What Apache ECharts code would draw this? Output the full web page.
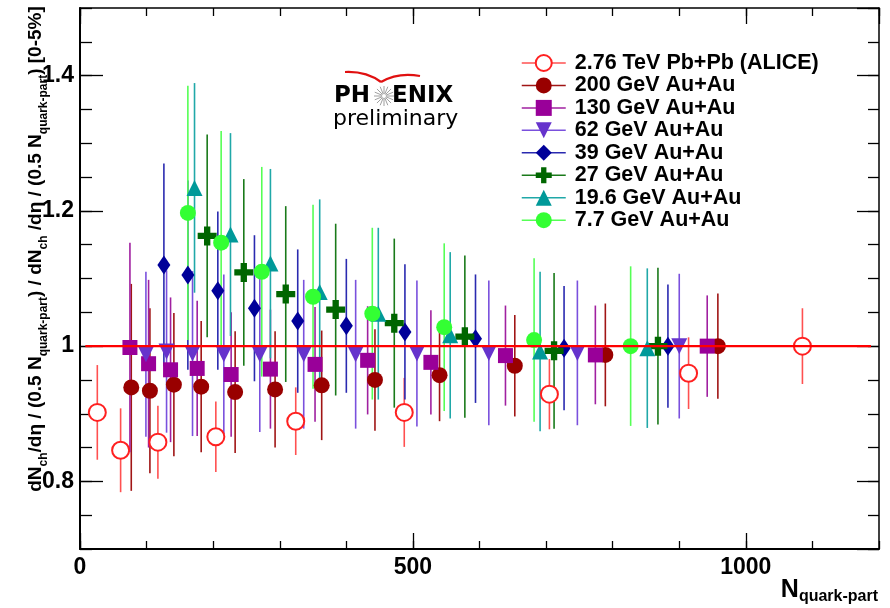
<!DOCTYPE html>
<html>
<head>
<meta charset="utf-8">
<script src="https://cdn.jsdelivr.net/npm/echarts@6/dist/echarts.min.js"></script>
<style>
  html, body { margin: 0; padding: 0; background: #fff; }
  #chart { width: 890px; height: 608px; }
</style>
</head>
<body>
<div id="chart"></div>
<script>
// values: x = N_quark-part, y = ratio, err = half height of error bar
var aliceX = [26, 61, 117, 204, 324, 487, 705, 914, 1085];
var aliceY = [0.902, 0.846, 0.858, 0.866, 0.889, 0.902, 0.929, 0.960, 1.000];
var aliceErr = [0.070, 0.062, 0.054, 0.052, 0.050, 0.051, 0.052, 0.053, 0.056];

var au200X = [77, 105, 141, 182, 233, 293, 363, 443, 540, 653, 789, 958];
var au200Y = [0.939, 0.934, 0.943, 0.940, 0.932, 0.936, 0.942, 0.950, 0.957, 0.971, 0.987, 1.000];
var au200Err = [0.153, 0.122, 0.106, 0.097, 0.090, 0.086, 0.081, 0.075, 0.068, 0.075, 0.076, 0.078];

var au130X = [75, 103, 136, 176, 227, 286, 353, 432, 527, 639, 774, 942];
var au130Y = [0.998, 0.974, 0.965, 0.967, 0.958, 0.966, 0.973, 0.979, 0.976, 0.986, 0.987, 1.000];
var au130Err = [0.155, 0.124, 0.107, 0.100, 0.092, 0.088, 0.085, 0.080, 0.077, 0.074, 0.073, 0.075];

var au62X = [99, 130, 169, 216, 270, 336, 414, 506, 614, 747, 900];
var au62Y = [0.988, 0.992, 0.989, 0.988, 0.988, 0.988, 0.988, 0.989, 0.990, 0.990, 1.000];
var au62Err = [0.122, 0.120, 0.122, 0.118, 0.115, 0.110, 0.110, 0.108, 0.107, 0.107, 0.107];

var au39X = [126, 162, 207, 262, 327, 400, 488, 594, 727, 883];
var au39Y = [1.120, 1.105, 1.082, 1.056, 1.037, 1.030, 1.021, 1.011, 0.997, 1.000];
var au39Err = [0.150, 0.140, 0.117, 0.108, 0.106, 0.099, 0.100, 0.095, 0.092, 0.091];

var au27X = [191, 246, 309, 384, 472, 578, 712, 868];
var au27Y = [1.163, 1.109, 1.077, 1.054, 1.034, 1.014, 0.993, 1.000];
var au27Err = [0.150, 0.138, 0.130, 0.127, 0.125, 0.120, 0.115, 0.116];

var au19X = [172, 226, 286, 360, 448, 556, 691, 852];
var au19Y = [1.234, 1.165, 1.122, 1.080, 1.048, 1.016, 0.992, 0.997];
var au19Err = [0.155, 0.150, 0.140, 0.137, 0.127, 0.123, 0.118, 0.118];

var au7X = [162, 212, 273, 350, 439, 547, 682, 827];
var au7Y = [1.197, 1.153, 1.110, 1.073, 1.048, 1.028, 1.009, 1.000];
var au7Err = [0.188, 0.165, 0.155, 0.136, 0.127, 0.124, 0.121, 0.118];

var refLineX = [8, 1188];
var refLineY = [1, 1];

var crossPath = 'path://M3,0H6V3H9V6H6V9H3V6H0V3H3Z';

var sets = [
    { name: '2.76 TeV Pb+Pb (ALICE)', x: aliceX, y: aliceY, err: aliceErr, color: '#ff2020', bar: '#ff5050', symbol: 'emptyCircle', size: 17 },
    { name: '200 GeV Au+Au', x: au200X, y: au200Y, err: au200Err, color: '#990000', bar: '#a01515', symbol: 'circle', size: 16 },
    { name: '130 GeV Au+Au', x: au130X, y: au130Y, err: au130Err, color: '#990099', bar: '#a020a0', symbol: 'rect', size: 15 },
    { name: '62 GeV Au+Au', x: au62X, y: au62Y, err: au62Err, color: '#6633cc', bar: '#7a50dd', symbol: 'triangle', size: 16, rotate: 180 },
    { name: '39 GeV Au+Au', x: au39X, y: au39Y, err: au39Err, color: '#000099', bar: '#2a2ab0', symbol: 'diamond', size: [13, 19] },
    { name: '27 GeV Au+Au', x: au27X, y: au27Y, err: au27Err, color: '#006600', bar: '#1a7a1a', symbol: crossPath, size: 19 },
    { name: '19.6 GeV Au+Au', x: au19X, y: au19Y, err: au19Err, color: '#009999', bar: '#20a8a8', symbol: 'triangle', size: 16 },
    { name: '7.7 GeV Au+Au', x: au7X, y: au7Y, err: au7Err, color: '#33ff33', bar: '#55ff55', symbol: 'circle', size: 16 }
];

var FONT = '"Liberation Sans", Arial, Helvetica, sans-serif';

var chart = echarts.init(document.getElementById('chart'), null, { renderer: 'canvas' });

var series = [];
sets.forEach(function (s, i) {
    var bars = s.x.map(function (x, k) { return [x, s.y[k] - s.err[k], s.y[k] + s.err[k]]; });
    series.push({
        name: '_err' + i,
        type: 'custom',
        z: 1,
        silent: true,
        data: bars,
        encode: { x: 0, y: [1, 2] },
        renderItem: function (params, api) {
            var top = api.coord([api.value(0), api.value(2)]);
            var bot = api.coord([api.value(0), api.value(1)]);
            return {
                type: 'line',
                shape: { x1: top[0], y1: top[1], x2: bot[0], y2: bot[1] },
                style: { stroke: s.bar, lineWidth: 1.6 }
            };
        }
    });
});
sets.forEach(function (s, i) {
    series.push({
        name: s.name,
        type: 'line',
        z: 2,
        silent: true,
        data: s.x.map(function (x, k) { return [x, s.y[k]]; }),
        symbol: s.symbol,
        symbolSize: s.size,
        symbolRotate: s.rotate || 0,
        symbolKeepAspect: true,
        showSymbol: true,
        showAllSymbol: true,
        itemStyle: { color: s.color, borderColor: s.color, borderWidth: s.symbol === 'emptyCircle' ? 1.5 : 0 },
        lineStyle: { width: 0, color: s.bar },
        animation: false
    });
});
series.push({
    name: '_ref',
    type: 'line',
    z: 5,
    silent: true,
    symbol: 'none',
    data: refLineX.map(function (x, k) { return [x, refLineY[k]]; }),
    lineStyle: { color: '#ff0000', width: 2.2 },
    animation: false
});

function xAx(pos, interval, tickLen, showLabels, lineW) {
    return {
        type: 'value', position: pos, min: 0, max: 1200, interval: interval,
        axisLine: { show: lineW > 0, onZero: false, lineStyle: { color: '#000', width: lineW } },
        axisTick: { inside: true, length: tickLen, lineStyle: { color: '#000', width: 1.3 } },
        axisLabel: {
            show: showLabels, showMaxLabel: false, margin: 7, color: '#000', fontSize: 23, fontWeight: 'bold', fontFamily: FONT,
            formatter: function (v) { return String(v); }
        },
        splitLine: { show: false }
    };
}
function yAx(pos, interval, tickLen, showLabels, lineW) {
    var ax = {
        type: 'value', position: pos, offset: 0, min: 0.7, max: 1.5, splitNumber: 4,
        axisLine: { show: lineW > 0, onZero: false, lineStyle: { color: '#000', width: lineW } },
        axisTick: { inside: true, length: tickLen, lineStyle: { color: '#000', width: 1.3 } },
        axisLabel: { show: showLabels, showMinLabel: false, showMaxLabel: false, margin: 6, color: '#000', fontSize: 23, fontWeight: 'bold', fontFamily: FONT },
        splitLine: { show: false }
    };
    if (interval) ax.interval = interval;
    return ax;
}

// starburst of the logo (decoration)
var burst = [];
for (var a = 0; a < 16; a++) {
    var t = a * Math.PI / 8;
    burst.push({
        type: 'line',
        shape: { x1: 384 + 2 * Math.cos(t), y1: 96 + 2 * Math.sin(t), x2: 384 + 10 * Math.cos(t), y2: 96 + 10 * Math.sin(t) },
        style: { stroke: '#888', lineWidth: 0.8 }
    });
}

var subRich = {
    m: { fontSize: 19, fontWeight: 'bold', fontFamily: FONT, color: '#000', lineHeight: 28 },
    s: { fontSize: 12, fontWeight: 'bold', fontFamily: FONT, color: '#000', lineHeight: 28, verticalAlign: 'bottom' }
};

chart.setOption({
    backgroundColor: '#fff',
    animation: false,
    grid: { left: 80, right: 11, top: 8, bottom: 59, containLabel: false },
    xAxis: [
        xAx('bottom', 500, 16, true, 2),
        xAx('bottom', 100, 8, false, 0),
        xAx('top', 500, 16, false, 1.5),
        xAx('top', 100, 8, false, 0)
    ],
    yAxis: [
        yAx('left', null, 23, true, 2),
        yAx('left', 0.05, 12, false, 0),
        yAx('right', null, 22, false, 1.5),
        yAx('right', 0.05, 11, false, 0)
    ],
    legend: {
        orient: 'vertical',
        left: 516,
        top: 47,
        itemWidth: 44,
        itemHeight: 20,
        itemGap: 0.45,
        selectedMode: false,
        data: sets.map(function (s) { return s.name; }),
        lineStyle: { width: 1.5, opacity: 1 },
        textStyle: { color: '#000', fontSize: 21.5, fontWeight: 'bold', fontFamily: FONT, lineHeight: 20, padding: [0, 0, 0, 4] }
    },
    graphic: [
        {
            type: 'text', x: 36, y: 249, rotation: Math.PI / 2,
            style: {
                text: '{m|dN}{s|ch}{m|/d\u03b7 / (0.5 N}{s|quark-part}{m|) / dN}{s|ch}{m| /d\u03b7 / (0.5 N}{s|quark-part}{m|) [0-5%]}',
                rich: subRich, align: 'center', verticalAlign: 'middle'
            }
        },
        {
            type: 'text', x: 878, y: 590,
            style: {
                text: '{m|N}{s|quark-part}',
                rich: {
                    m: { fontSize: 25, fontWeight: 'bold', fontFamily: FONT, color: '#000', lineHeight: 30 },
                    s: { fontSize: 16, fontWeight: 'bold', fontFamily: FONT, color: '#000', lineHeight: 30, verticalAlign: 'bottom' }
                },
                align: 'right', verticalAlign: 'middle'
            }
        },
        {
            type: 'group', children: [
                { type: 'bezierCurve', shape: { x1: 345, y1: 72, cpx1: 366, cpy1: 71, x2: 381, y2: 82 }, style: { stroke: '#e01010', lineWidth: 2.2, fill: null } },
                { type: 'bezierCurve', shape: { x1: 381, y1: 82, cpx1: 398, cpy1: 72, x2: 420, y2: 76 }, style: { stroke: '#e01010', lineWidth: 2.2, fill: null } },
                { type: 'text', x: 334, y: 96, style: { text: 'PH', fontSize: 23, fontWeight: 'bold', fontFamily: '"DejaVu Sans", sans-serif', fill: '#000', verticalAlign: 'middle' } },
                { type: 'text', x: 392, y: 96, style: { text: 'ENIX', fontSize: 23, fontWeight: 'bold', fontFamily: '"DejaVu Sans", sans-serif', fill: '#000', verticalAlign: 'middle' } },
                { type: 'text', x: 333, y: 119, style: { text: 'preliminary', fontSize: 22, fontFamily: '"DejaVu Sans", sans-serif', fill: '#000', verticalAlign: 'middle' } }
            ].concat(burst)
        }
    ],
    series: series
});
</script>
</body>
</html>
